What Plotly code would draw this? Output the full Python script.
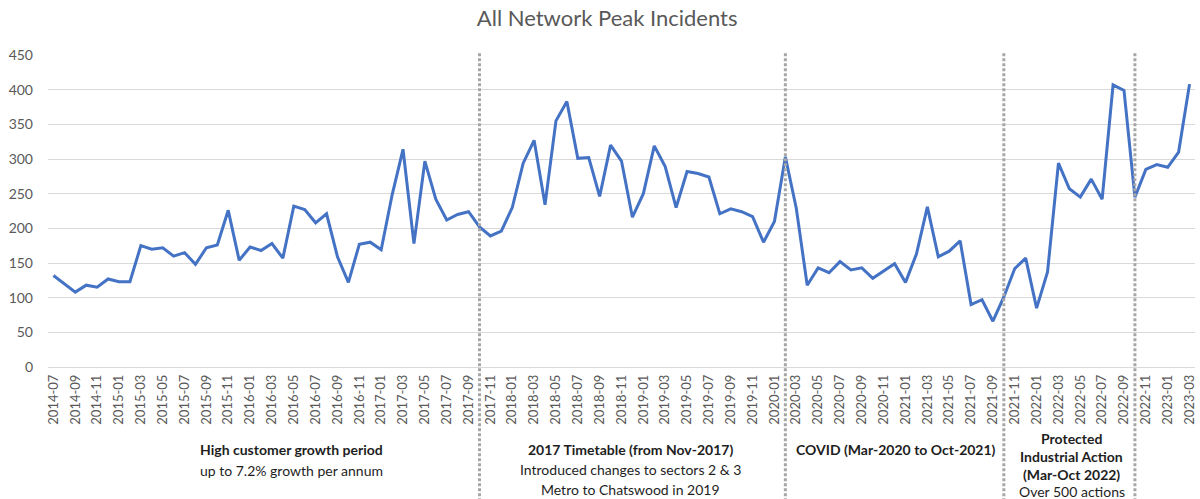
import plotly.graph_objects as go
import pandas as pd

# Monthly peak incidents across the whole network, Jul-2014 to Mar-2023
months = pd.period_range("2014-07", "2023-03", freq="M").strftime("%Y-%m").tolist()
incidents = [
    132, 120, 108, 118, 115, 127, 123, 123, 175, 170, 172, 160,
    165, 148, 172, 176, 226, 154, 173, 168, 178, 157, 232, 227,
    208, 221, 159, 122, 177, 180, 169, 248, 314, 178, 297, 242,
    212, 220, 224, 202, 189, 196, 230, 294, 327, 234, 355, 383,
    301, 302, 246, 320, 297, 216, 250, 319, 289, 230, 282, 279,
    274, 221, 228, 224, 217, 180, 210, 303, 229, 118, 143, 136,
    152, 140, 143, 128, 139, 149, 122, 163, 231, 159, 167, 182,
    90, 97, 66, 101, 142, 157, 85, 137, 294, 257, 245, 271,
    242, 407, 399, 245, 285, 292, 288, 310, 408,
]

# Period boundaries (months where a new operating period begins)
period_breaks = ["2017-10", "2020-02", "2021-10", "2022-10"]

# Period descriptions drawn under the axis (lines, bold flags)
period_notes = [
    (["High customer growth period", "up to 7.2% growth per annum"], [True, False]),
    (["2017 Timetable (from Nov-2017)", "Introduced changes to sectors 2 & 3",
      "Metro to Chatswood in 2019"], [True, False, False]),
    (["COVID (Mar-2020 to Oct-2021)"], [True]),
    (["Protected", "Industrial Action", "(Mar-Oct 2022)", "Over 500 actions"],
     [True, True, True, False]),
]
# Horizontal centre (in month index units) and vertical rows (paper units) of each note
note_x = [21.8, 52.8, 77.1, 93.2]
note_rows = [
    [-0.266, -0.333],
    [-0.266, -0.330, -0.394],
    [-0.266],
    [-0.229, -0.288, -0.346, -0.399],
]

x_idx = list(range(len(months)))
tick_idx = x_idx[::2]
tick_text = months[::2]

FONT = "Lato"
GREY = "#595959"

fig = go.Figure()
fig.add_trace(go.Scatter(
    x=x_idx, y=incidents, mode="lines",
    line=dict(color="#4472C4", width=3),
    hoverinfo="skip", showlegend=False,
))

# Dotted separators running from the top of the plot down through the notes
for m in period_breaks:
    i = months.index(m)
    fig.add_shape(type="line", xref="x", yref="paper", x0=i, x1=i, y0=-0.43, y1=1.007,
                  line=dict(color="#A6A6A6", width=3, dash="3px,2px"), layer="above")

for (lines, bold), cx, rows in zip(period_notes, note_x, note_rows):
    for txt, b, yy in zip(lines, bold, rows):
        fig.add_annotation(
            x=cx, y=yy, xref="x", yref="paper",
            text=f"<b>{txt}</b>" if b else txt,
            showarrow=False, xanchor="center", yanchor="middle",
            font=dict(family=FONT, size=14, color="#1E1E1E"),
        )

fig.update_layout(
    width=1200, height=499,
    margin=dict(l=48, r=3, t=55, b=132, pad=0),
    paper_bgcolor="white", plot_bgcolor="white",
    title=dict(text="All Network Peak Incidents", x=0.506, xanchor="center",
               y=0.963, yanchor="middle",
               font=dict(family=FONT, size=22, color=GREY)),
    font=dict(family=FONT, color=GREY),
)
fig.update_xaxes(
    range=[-0.5, len(months) - 0.5],
    tickmode="array", tickvals=tick_idx, ticktext=tick_text,
    tickangle=-90, tickfont=dict(family=FONT, size=13, color=GREY),
    ticklabelstandoff=4,
    showgrid=False, showline=False, zeroline=False, ticks="",
)
fig.update_yaxes(
    range=[0, 450], dtick=50,
    showgrid=True, gridcolor="#D9D9D9", gridwidth=1,
    zeroline=True, zerolinecolor="#D9D9D9", zerolinewidth=1,
    showline=False, ticks="", ticklabelstandoff=14,
    tickfont=dict(family=FONT, size=14, color=GREY),
)

fig.write_html("out.html")
